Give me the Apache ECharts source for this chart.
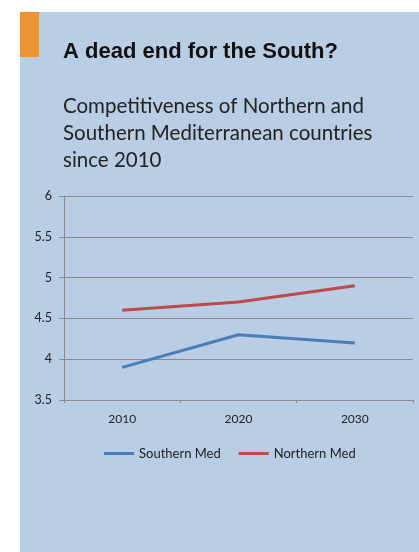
<!DOCTYPE html>
<html>
<head>
<meta charset="utf-8">
<script src="https://cdn.jsdelivr.net/npm/echarts@6/dist/echarts.min.js"></script>
<style>
  html, body { margin: 0; padding: 0; background: #ffffff; }
  #chart { width: 419px; height: 552px; }
</style>
</head>
<body>
<div id="chart"></div>
<script>
// Competitiveness index, by decade
const years = ['2010', '2020', '2030'];
const southernMed = [3.9, 4.3, 4.2];
const northernMed = [4.6, 4.7, 4.9];
const yTicks = { min: 3.5, max: 6, step: 0.5 };

const chart = echarts.init(document.getElementById('chart'), null, { renderer: 'canvas' });

const bodyFont = 'Lato, "Open Sans", sans-serif';

chart.setOption({
  animation: false,
  backgroundColor: '#ffffff',
  graphic: [
    { type: 'rect', shape: { x: 20, y: 12, width: 399, height: 540 }, style: { fill: '#B9CDE5' }, z: -10 },
    { type: 'rect', shape: { x: 20, y: 12, width: 19, height: 45 }, style: { fill: '#EE9336' }, z: -9 }
  ],
  title: [
    {
      text: 'A dead end for the South?',
      left: 58, top: 36,
      textStyle: { fontFamily: '"Liberation Sans", Arial, sans-serif', fontWeight: 'bold', fontSize: 22, color: '#111111' }
    },
    {
      text: 'Competitiveness of Northern and\nSouthern Mediterranean countries\nsince 2010',
      left: 58, top: 88,
      textStyle: { fontFamily: bodyFont, fontWeight: 'normal', fontSize: 20.5, lineHeight: 27, color: '#222222' }
    }
  ],
  grid: { left: 64, right: 6, top: 196, bottom: 152 },
  xAxis: {
    type: 'category',
    data: years,
    boundaryGap: true,
    axisLine: { lineStyle: { color: '#8a8a8a', width: 1 } },
    axisTick: { show: true, length: 3, lineStyle: { color: '#8a8a8a' } },
    axisLabel: { fontFamily: bodyFont, fontSize: 12, color: '#222222', margin: 13 }
  },
  yAxis: {
    type: 'value',
    min: yTicks.min, max: yTicks.max, interval: yTicks.step,
    axisLine: { show: true, lineStyle: { color: '#8a8a8a', width: 1 } },
    axisTick: { show: true, length: 5, lineStyle: { color: '#8a8a8a' } },
    axisLabel: { fontFamily: bodyFont, fontSize: 12.5, color: '#222222', margin: 12 },
    splitLine: { show: true, lineStyle: { color: '#8a8a8a', width: 1 } }
  },
  legend: {
    left: 99, top: 442,
    icon: 'rect', itemWidth: 30, itemHeight: 3, itemGap: 18,
    textStyle: { fontFamily: bodyFont, fontSize: 13, color: '#222222' },
    data: ['Southern Med', 'Northern Med']
  },
  series: [
    {
      name: 'Southern Med', type: 'line', data: southernMed,
      showSymbol: false, symbol: 'none',
      lineStyle: { color: '#4A7EBB', width: 3 }, itemStyle: { color: '#4A7EBB' }
    },
    {
      name: 'Northern Med', type: 'line', data: northernMed,
      showSymbol: false, symbol: 'none',
      lineStyle: { color: '#BE4B48', width: 3 }, itemStyle: { color: '#BE4B48' }
    }
  ]
});
</script>
</body>
</html>
